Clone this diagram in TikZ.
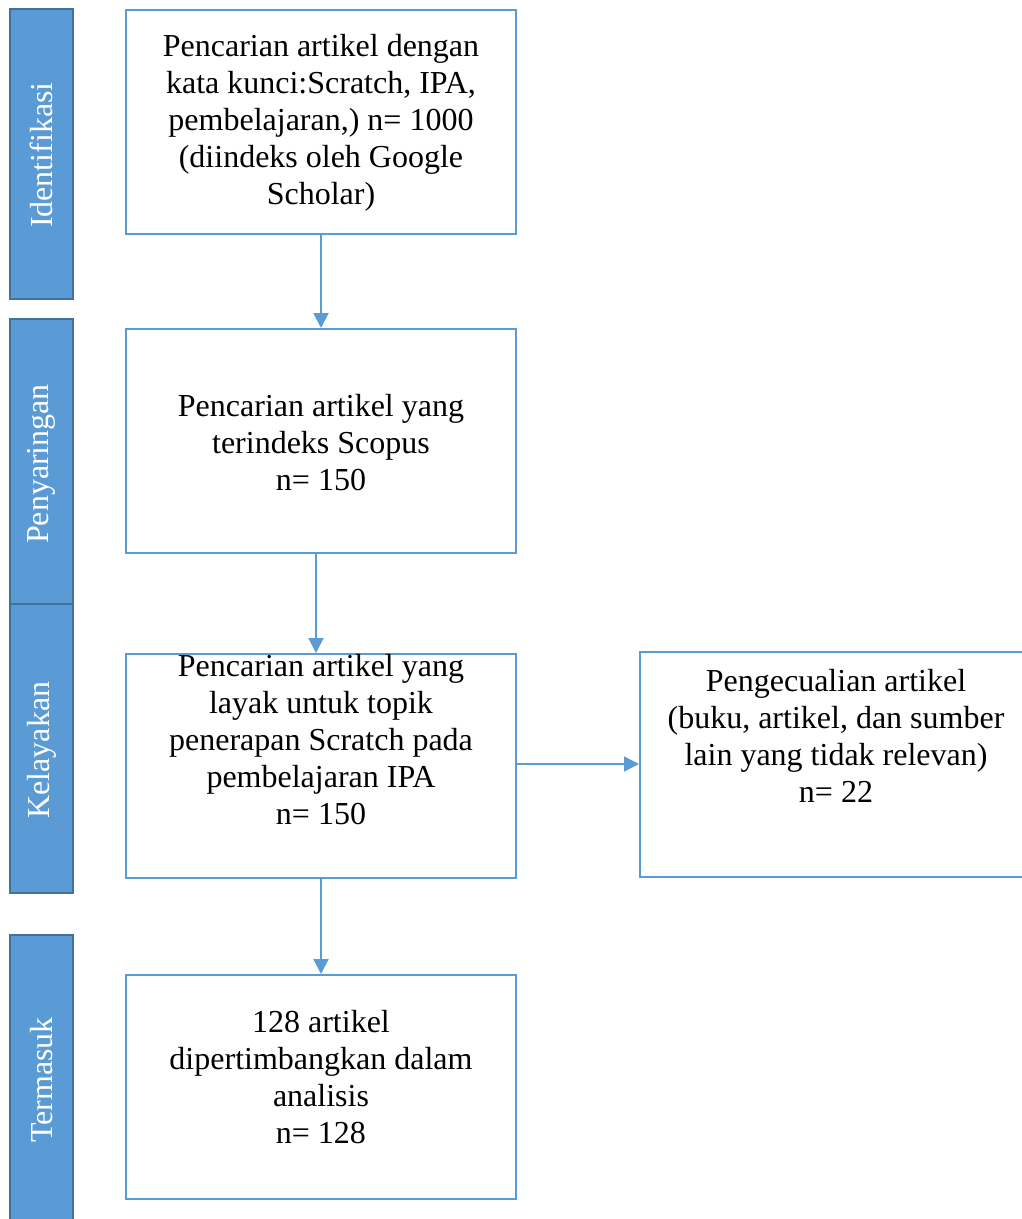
\documentclass[tikz,border=0pt]{standalone}
\usepackage{fontspec}
\setmainfont{Liberation Serif}
\usetikzlibrary{arrows.meta}
\definecolor{barfill}{HTML}{5B9BD5}
\definecolor{bardraw}{HTML}{41719C}
\definecolor{boxdraw}{HTML}{5B9BD5}
\tikzset{
  stagebar/.style={draw=bardraw, line width=2.5pt, fill=barfill, minimum width=63pt, inner sep=0pt},
  stagetext/.style={text=white, rotate=90, font=\fontsize{32}{37}\selectfont, inner sep=0pt},
  flowbox/.style={draw=boxdraw, line width=2pt, fill=none, inner sep=0pt},
  flowtext/.style={align=center, font=\fontsize{32}{37}\selectfont, inner sep=0pt},
  flowarrow/.style={draw=boxdraw, line width=2pt, -{Triangle[width=15pt,length=15pt]}},
  sidearrow/.style={draw=boxdraw, line width=1.5pt, -{Triangle[width=15pt,length=15pt]}}
}
\begin{document}
\begin{tikzpicture}[x=1pt,y=-1pt]
\useasboundingbox (0,0) rectangle (1022,1219);
% stage bars
\node[stagebar, minimum height=290pt] (s1) at (41.5,154) {};
\node[stagetext] (s1t) at (41.5,155) {Identifikasi};
\node[stagebar, minimum height=285pt] (s2) at (41.5,461.5) {};
\node[stagetext] (s2t) at (41.5,464) {Penyaringan};
\node[stagebar, minimum height=289pt] (s3) at (41.5,748.5) {};
\node[stagetext] (s3t) at (41.5,750) {Kelayakan};
\node[stagebar, minimum height=292pt] (s4) at (41.5,1081) {};
\node[stagetext] (s4t) at (41.5,1080) {Termasuk};
% boxes
\node[flowbox, minimum width=390pt, minimum height=224pt] (b1) at (321,122) {};
\node[flowbox, minimum width=390pt, minimum height=224pt] (b2) at (321,441) {};
\node[flowbox, minimum width=390pt, minimum height=224pt] (b3) at (321,766) {};
\node[flowbox, minimum width=390pt, minimum height=224pt] (b4) at (321,1087) {};
\node[flowbox, minimum width=396pt, minimum height=225pt] (b5) at (838,764.5) {};
% texts
\node[flowtext] (t1) at (321,123) {Pencarian artikel dengan\\kata kunci:Scratch, IPA,\\pembelajaran,) n= 1000\\(diindeks oleh Google\\Scholar)};
\node[flowtext] (t2) at (321,443) {Pencarian artikel yang\\terindeks Scopus\\n= 150};
\node[flowtext] (t3) at (321,740) {Pencarian artikel yang\\layak untuk topik\\penerapan Scratch pada\\pembelajaran IPA\\n= 150};
\node[flowtext] (t4) at (321,1077) {128 artikel\\dipertimbangkan dalam\\analisis\\n= 128};
\node[flowtext] (t5) at (836,736) {Pengecualian artikel\\(buku, artikel, dan sumber\\lain yang tidak relevan)\\n= 22};
% connectors
\draw[flowarrow] (b1.south) -- (b2.north);
\draw[flowarrow] ([xshift=-5pt]b2.south) -- ([xshift=-5pt]b3.north);
\draw[flowarrow] (b3.south) -- (b4.north);
\draw[sidearrow] (b3.east |- 0,764) -- (b5.west |- 0,764);
\end{tikzpicture}
\end{document}
